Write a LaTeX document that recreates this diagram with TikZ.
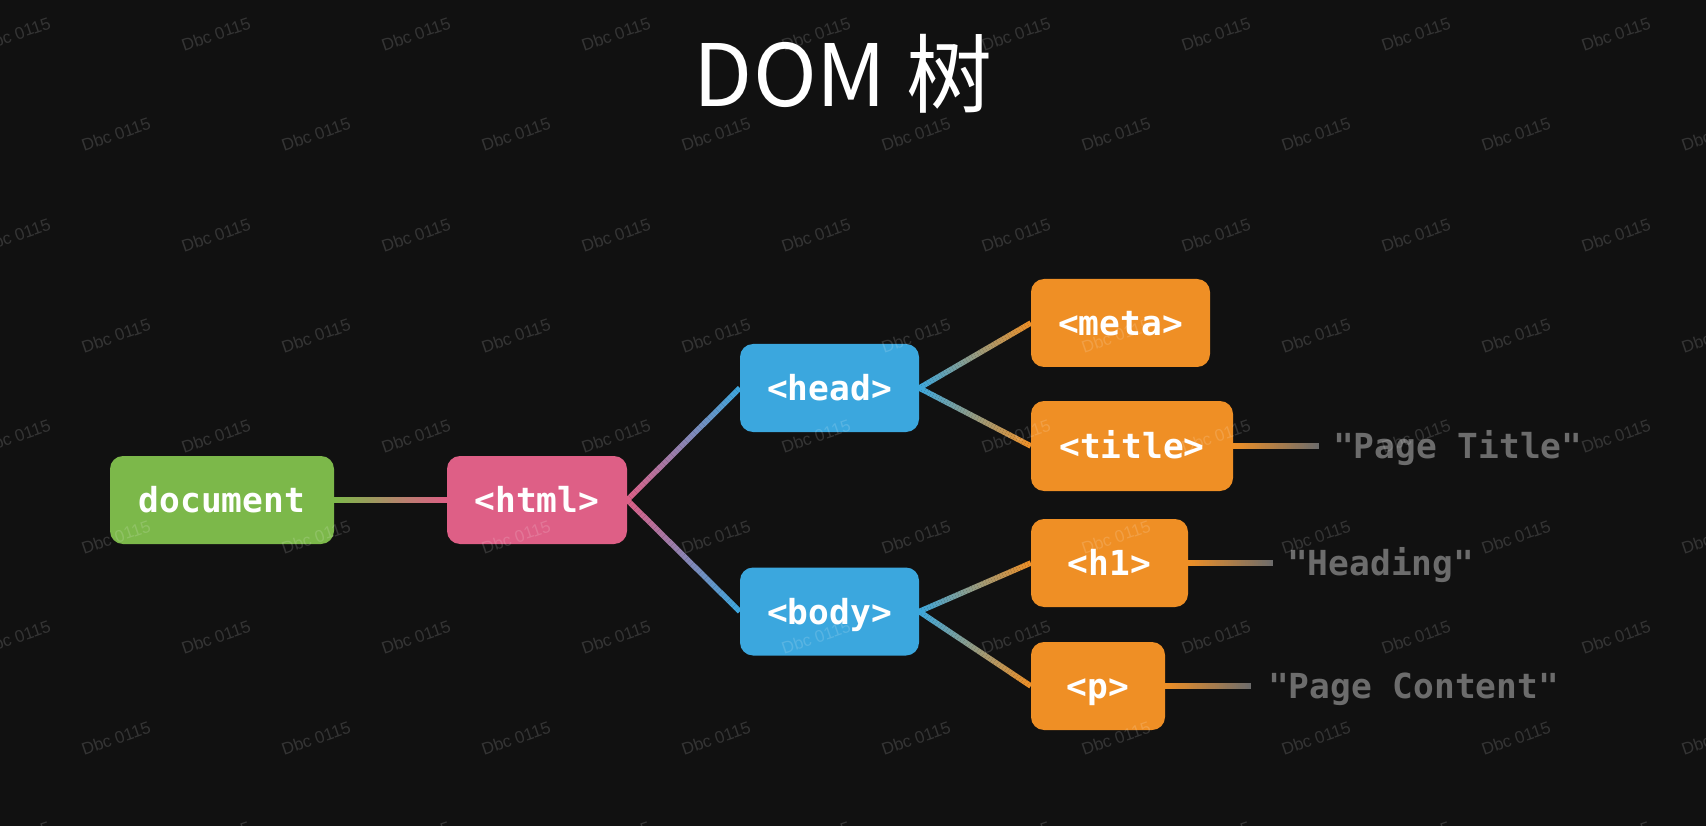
\documentclass[tikz,border=0pt]{standalone}
\usepackage{fontspec}
\usetikzlibrary{calc}
\newfontfamily\cjk{Noto Sans CJK SC}
\newfontfamily\mono{DejaVu Sans Mono}
\newfontfamily\wmfont{Liberation Sans}
\definecolor{bgc}{HTML}{111111}
\definecolor{cgreen}{HTML}{7CB84A}
\definecolor{cpink}{HTML}{DE5F86}
\definecolor{cblue}{HTML}{3BA7DE}
\definecolor{corange}{HTML}{EF8F25}
\definecolor{cgray}{HTML}{6C6C6C}
\pgfdeclarelayer{bglayer}
\pgfdeclarelayer{lines}
\pgfdeclarelayer{wm}
\pgfsetlayers{bglayer,lines,main,wm}
\newcommand{\gline}[5][5.5]{%
  \foreach \i in {0,...,39}{%
    \pgfmathtruncatemacro\pc{round(100-100*(\i+0.5)/40)}%
    \draw[line width=#1, draw={#4!\pc!#5}] ($(#2)!\i/40!(#3)$) -- ($(#2)!{(\i+1)/40}!(#3)$);
  }}
\tikzset{
  box/.style={rounded corners=13, minimum height=88, inner xsep=0, inner ysep=0,
    text height=25.2pt, text depth=0pt, text=white,
    font=\mono\bfseries\fontsize{34.5}{40}\selectfont},
  strtxt/.style={anchor=west, inner sep=0, text height=25.2pt, text depth=0pt,
    text=cgray, font=\mono\bfseries\fontsize{34.5}{40}\selectfont},
  wmark/.style={rotate=19, text=white, opacity=0.15, inner sep=0,
    font=\wmfont\fontsize{17}{20}\selectfont},
}
\begin{document}
\begin{tikzpicture}[x=1pt,y=-1pt]
\begin{pgfonlayer}{bglayer}
\fill[bgc] (0,0) rectangle (1706,826);
\end{pgfonlayer}
\useasboundingbox (0,0) rectangle (1706,826);

\node[anchor=base, text=white, inner sep=0, font=\cjk\fontsize{86}{92}\selectfont] (title) at (843,107) {DOM 树};

\node[box, fill=cgreen, minimum width=224] (doc) at (222,500) {document};
\node[box, fill=cpink, minimum width=180] (html) at (537,500) {<html>};
\node[box, fill=cblue, minimum width=179] (head) at (829.5,388) {<head>};
\node[box, fill=cblue, minimum width=179] (body) at (829.5,611.5) {<body>};
\node[box, fill=corange, minimum width=179] (meta) at (1120.5,323) {<meta>};
\node[box, fill=corange, minimum width=202, minimum height=90] (ttl) at (1132,446) {<title>};
\node[box, fill=corange, minimum width=157] (h1) at (1109.5,563) {<h1>};
\node[box, fill=corange, minimum width=134] (p) at (1098,686) {<p>};

\coordinate (ttlend) at (1319,446);
\coordinate (h1end) at (1273,563);
\coordinate (pend) at (1251,686);
\node[strtxt] (ttltxt) at (1333,446) {"Page Title"};
\node[strtxt] (h1txt) at (1287,563) {"Heading"};
\node[strtxt] (ptxt) at (1268,686) {"Page Content"};

\begin{pgfonlayer}{lines}
\gline{doc.east}{html.west}{cgreen}{cpink}
\gline{html.east}{head.west}{cpink}{cblue}
\gline{html.east}{body.west}{cpink}{cblue}
\gline{head.east}{meta.west}{cblue}{corange}
\gline{head.east}{ttl.west}{cblue}{corange}
\gline{body.east}{h1.west}{cblue}{corange}
\gline{body.east}{p.west}{cblue}{corange}
\gline[6.5]{ttl.east}{ttlend}{corange}{cgray}
\gline[6.5]{h1.east}{h1end}{corange}{cgray}
\gline[6.5]{p.east}{pend}{corange}{cgray}
\end{pgfonlayer}

\begin{pgfonlayer}{wm}
\foreach \r in {0,...,8}{%
  \pgfmathsetmacro\yy{34+100.6*\r}%
  \pgfmathsetmacro\xo{mod(\r,2)==0 ? 16 : 116}%
  \foreach \c in {0,...,8}{%
    \node[wmark] at ({\xo+200*\c},\yy) {Dbc 0115};
  }
}
\end{pgfonlayer}
\end{tikzpicture}
\end{document}
